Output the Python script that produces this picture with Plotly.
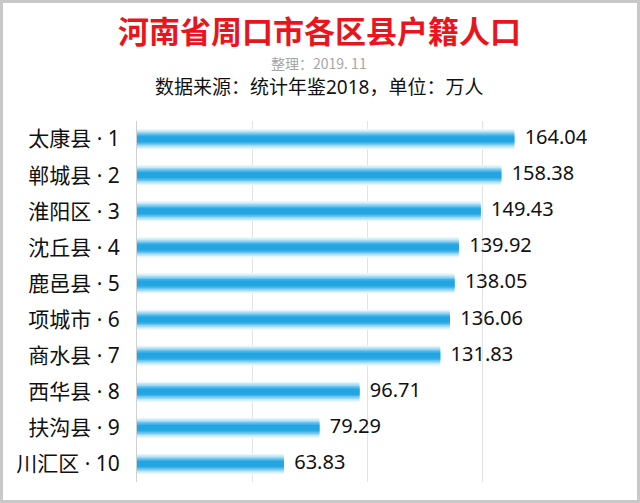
import plotly.graph_objects as go

names = ["太康县", "郸城县", "淮阳区", "沈丘县", "鹿邑县", "项城市", "商水县", "西华县", "扶沟县", "川汇区"]
ranks = [1, 2, 3, 4, 5, 6, 7, 8, 9, 10]
population = [164.04, 158.38, 149.43, 139.92, 138.05, 136.06, 131.83, 96.71, 79.29, 63.83]
value_labels = ["164.04", "158.38", "149.43", "139.92", "138.05", "136.06", "131.83", "96.71", "79.29", "63.83"]
x_ticks = [0, 50, 100, 150, 200]

categories = [f"{n} · {r}" for n, r in zip(names, ranks)]

W, H = 640, 503
L, R, T, B = 137, 43, 121, 21

fig = go.Figure()

# layered bars to imitate the vertical gradient fill
layers = [
    (0.56, "#e6f6fd"),
    (0.48, "#c4e9f9"),
    (0.40, "#9bd8f4"),
    (0.32, "#6cc4ee"),
    (0.24, "#40b1e7"),
    (0.16, "#22a6e2"),
]
for w, c in layers:
    fig.add_trace(go.Bar(
        y=categories, x=population, orientation="h",
        width=w, marker=dict(color=c, line=dict(width=0)),
        hoverinfo="skip", showlegend=False,
    ))

fig.add_trace(go.Scatter(
    y=categories, x=population, mode="text",
    text=["  " + t for t in value_labels], textposition="middle right",
    textfont=dict(size=20, color="#111111", family="Noto Sans, Noto Sans CJK SC"),
    cliponaxis=False, hoverinfo="skip", showlegend=False,
))

fig.update_layout(
    width=W, height=H,
    margin=dict(l=L, r=R, t=T, b=B, autoexpand=False),
    barmode="overlay",
    plot_bgcolor="white", paper_bgcolor="white",
    font=dict(family="Noto Sans CJK SC", color="#111111"),
    xaxis=dict(range=[0, 200], tickvals=x_ticks, showticklabels=False,
               showgrid=True, gridcolor="#e3e3e3", gridwidth=1,
               zeroline=False, showline=False, fixedrange=True, automargin=False),
    yaxis=dict(autorange="reversed", categoryorder="array", categoryarray=categories,
               tickfont=dict(size=21, color="#111111", family="Noto Sans, Noto Sans CJK SC"),
               ticks="", ticklabelstandoff=12, automargin=False,
               showline=True, linecolor="#d0d0d0", linewidth=1,
               showgrid=False, fixedrange=True),
)

pw = W - L - R
ph = H - T - B
fig.add_shape(type="rect", xref="paper", yref="paper",
              x0=(-L + 1.5) / pw, x1=1 + (R - 1.5) / pw,
              y0=(-B + 1.5) / ph, y1=1 + (T - 1.5) / ph,
              line=dict(color="#c8c8c8", width=3), layer="above")

def py(y_px):
    return 1 + (T - y_px) / ph

def px(x_px):
    return (x_px - L) / pw

fig.add_annotation(text="<b>河南省周口市各区县户籍人口</b>", xref="paper", yref="paper",
                   x=px(319), y=py(30), showarrow=False, xanchor="center", yanchor="middle",
                   font=dict(size=31, color="#e8161c", family="Noto Sans CJK SC"))
fig.add_annotation(text="整理：2019. 11", xref="paper", yref="paper",
                   x=px(319), y=py(63), showarrow=False, xanchor="center", yanchor="middle",
                   font=dict(size=14, color="#a6a6a6", family="Noto Sans CJK SC"))
fig.add_annotation(text="数据来源：统计年鉴2018，单位：万人", xref="paper", yref="paper",
                   x=px(319), y=py(87), showarrow=False, xanchor="center", yanchor="middle",
                   font=dict(size=19, color="#111111", family="Noto Sans, Noto Sans CJK SC"))

fig.write_html("out.html", config={"displayModeBar": False},
               post_script="document.body.style.margin='0';document.body.style.overflow='hidden';")
